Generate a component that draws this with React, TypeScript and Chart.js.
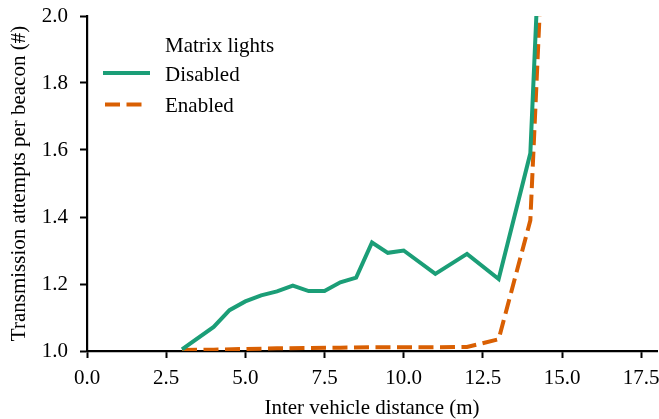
import React, { useEffect, useRef } from "react";
import { Chart, registerables } from "chart.js";

Chart.register(...registerables);

const FONT = "'Liberation Serif', 'Times New Roman', serif";
const FONT_SIZE = 21;
const GREEN = "#1b9e77";
const ORANGE = "#d95f02";

const LEGEND_TITLE = "Matrix lights";
const X_TITLE = "Inter vehicle distance (m)";
const Y_TITLE = "Transmission attempts per beacon (#)";

const disabledX = [3, 4, 4.5, 5, 5.5, 6, 6.5, 7, 7.5, 8, 8.5, 9, 9.5, 10, 11, 12, 13, 14, 15];
const disabledY = [1.005, 1.072, 1.122, 1.148, 1.166, 1.178, 1.195, 1.179, 1.179, 1.205, 1.219, 1.324, 1.293, 1.3, 1.23, 1.29, 1.215, 1.59, 3.75];

const enabledX = [3, 4, 5, 6, 7, 8, 9, 10, 11, 12, 13, 14, 15];
const enabledY = [1.003, 1.004, 1.006, 1.008, 1.009, 1.01, 1.011, 1.011, 1.011, 1.012, 1.035, 1.39, 3.49];

const X_MIN = 0;
const X_MAX = 18;
const X_STEP = 2.5;
const Y_MIN = 1.0;
const Y_MAX = 2.0;
const Y_STEP = 0.2;

const DASH = [15, 6.5];

const zeroPad = (s: any) => {
  s.paddingTop = 0;
  s.paddingBottom = 0;
  s.paddingLeft = 0;
  s.paddingRight = 0;
};

const legendPlugin = {
  id: "insideLegend",
  afterDraw(chart: any) {
    const ctx = chart.ctx;
    const area = chart.chartArea;
    ctx.save();
    ctx.font = `${FONT_SIZE}px ${FONT}`;
    ctx.fillStyle = "#000";
    ctx.textAlign = "left";
    ctx.textBaseline = "alphabetic";
    const textX = area.left + 78;
    ctx.fillText(LEGEND_TITLE, textX, area.top + 36);
    chart.data.datasets.forEach((ds: any, i: number) => {
      const baseY = area.top + 64.5 + i * 31.5;
      const midY = baseY - 7.5;
      const dashed = !!ds.borderDash;
      const lineX0 = area.left + (dashed ? 18 : 16);
      const lineX1 = area.left + (dashed ? 56 : 63);
      ctx.beginPath();
      ctx.strokeStyle = ds.borderColor;
      ctx.lineWidth = ds.borderWidth;
      ctx.lineCap = "butt";
      ctx.setLineDash(ds.borderDash || []);
      ctx.moveTo(lineX0, midY);
      ctx.lineTo(lineX1, midY);
      ctx.stroke();
      ctx.setLineDash([]);
      ctx.fillText(ds.label, textX, baseY);
    });
    ctx.restore();
  },
};

export default function App() {
  const canvasRef = useRef<HTMLCanvasElement | null>(null);

  useEffect(() => {
    if (!canvasRef.current) return;
    const tickFont = { family: FONT, size: FONT_SIZE };
    const chart = new Chart(canvasRef.current, {
      type: "line",
      data: {
        datasets: [
          {
            label: "Disabled",
            data: disabledX.map((x, i) => ({ x, y: disabledY[i] })),
            borderColor: GREEN,
            backgroundColor: GREEN,
            borderWidth: 4,
            pointRadius: 0,
            tension: 0,
            fill: false,
          },
          {
            label: "Enabled",
            data: enabledX.map((x, i) => ({ x, y: enabledY[i] })),
            borderColor: ORANGE,
            backgroundColor: ORANGE,
            borderWidth: 4,
            borderDash: DASH,
            borderCapStyle: "butt",
            pointRadius: 0,
            tension: 0,
            fill: false,
          },
        ],
      },
      options: {
        animation: false,
        responsive: true,
        maintainAspectRatio: false,
        layout: { padding: { top: 16, right: 2, left: 0, bottom: 0 } },
        plugins: {
          legend: { display: false },
          tooltip: { enabled: false },
        },
        scales: {
          x: {
            type: "linear",
            min: X_MIN,
            max: X_MAX,
            afterFit: (s: any) => {
              s.height = 68;
              zeroPad(s);
            },
            ticks: {
              stepSize: X_STEP,
              includeBounds: false,
              color: "#000",
              font: tickFont,
              padding: 8,
              maxRotation: 0,
              callback: (v: any) => Number(v).toFixed(1),
            },
            grid: {
              drawOnChartArea: false,
              drawTicks: true,
              tickLength: 7,
              tickWidth: 2,
              tickColor: "#000",
              color: "#000",
            },
            border: { display: true, color: "#000", width: 2.2 },
            title: {
              display: true,
              text: X_TITLE,
              color: "#000",
              font: { family: FONT, size: FONT_SIZE, lineHeight: 1 },
              padding: { top: 0, bottom: 0 },
            },
          },
          y: {
            type: "linear",
            min: Y_MIN,
            max: Y_MAX,
            afterFit: (s: any) => {
              s.width = 87;
              zeroPad(s);
            },
            ticks: {
              stepSize: Y_STEP,
              includeBounds: false,
              color: "#000",
              font: tickFont,
              padding: 12,
              callback: (v: any) => Number(v).toFixed(1),
            },
            grid: {
              drawOnChartArea: false,
              drawTicks: true,
              tickLength: 7,
              tickWidth: 2,
              tickColor: "#000",
              color: "#000",
            },
            border: { display: true, color: "#000", width: 2.2 },
            title: {
              display: true,
              text: Y_TITLE,
              color: "#000",
              font: { family: FONT, size: FONT_SIZE, lineHeight: 1 },
              padding: { top: 9, bottom: 0 },
            },
          },
        },
      } as any,
      plugins: [legendPlugin],
    });
    return () => chart.destroy();
  }, []);

  return (
    <div style={{ position: "fixed", left: 0, top: 0, width: 659, height: 419, background: "#fff" }}>
      <canvas ref={canvasRef} />
    </div>
  );
}
